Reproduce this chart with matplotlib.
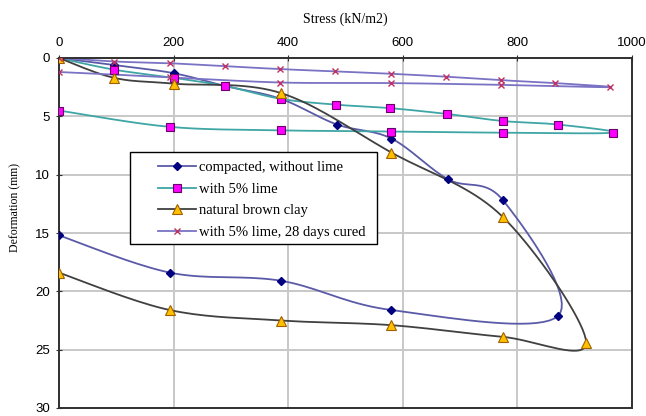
import numpy as np
import matplotlib
matplotlib.use("Agg")
import matplotlib.pyplot as plt
from matplotlib.patches import Rectangle

# stress (kN/m2) and deformation (mm), loading then unloading
compacted_x = [0, 96, 200, 290, 387, 485, 580, 679, 775, 871, 580, 388, 194, 0]
compacted_y = [0, 0.6, 1.3, 2.4, 3.5, 5.7, 6.9, 10.4, 12.2, 22.1, 21.6, 19.1, 18.4, 15.2]

lime_x = [0, 96, 200, 290, 387, 483, 578, 678, 774, 870, 967, 774, 580, 387, 193, 0]
lime_y = [0, 1.0, 1.7, 2.4, 3.5, 4.0, 4.3, 4.8, 5.4, 5.7, 6.4, 6.4, 6.3, 6.2, 5.9, 4.5]

clay_x = [0, 96, 200, 387, 580, 774, 920, 774, 580, 388, 193, 0]
clay_y = [0, 1.7, 2.2, 3.0, 8.1, 13.6, 24.4, 23.9, 22.9, 22.5, 21.6, 18.4]

cured_x = [0, 96, 193, 289, 386, 482, 579, 675, 771, 866, 962, 771, 579, 386, 193, 0]
cured_y = [0, 0.3, 0.45, 0.7, 0.95, 1.15, 1.35, 1.6, 1.9, 2.15, 2.5, 2.3, 2.15, 2.1, 1.65, 1.2]

labels = ["compacted, without lime", "with 5% lime", "natural brown clay",
          "with 5% lime, 28 days cured"]

XMAX, YMAX = 1000, 30
AX_W, AX_H = 573, 350  # axes size in pixels


def smooth(xs, ys, n=20):
    # excel-like smoothed line (bezier through the points), done in pixel space
    sx, sy = AX_W / XMAX, AX_H / YMAX
    p = np.column_stack([np.array(xs) * sx, np.array(ys) * sy])
    out = [p[0]]
    t = np.linspace(0, 1, n)[1:, None]
    for i in range(len(p) - 1):
        p0 = p[i - 1] if i > 0 else p[i]
        p1, p2 = p[i], p[i + 1]
        p3 = p[i + 2] if i + 2 < len(p) else p[i + 1]
        c1 = p1 + (p2 - p0) / 6
        c2 = p2 - (p3 - p1) / 6
        seg = ((1 - t) ** 3) * p1 + 3 * ((1 - t) ** 2) * t * c1 + 3 * (1 - t) * t ** 2 * c2 + t ** 3 * p2
        out.extend(seg)
    out = np.array(out)
    return out[:, 0] / sx, out[:, 1] / sy


W, H = 646, 416
fig = plt.figure(figsize=(W / 100, H / 100), dpi=100)
ax = fig.add_axes([59 / W, 1 - 408 / H, AX_W / W, AX_H / H])

series = [
    (compacted_x, compacted_y, "#5a5aa8", dict(marker="D", ms=4.5, mfc="#000080", mec="#000080")),
    (lime_x, lime_y, "#3fa5a5", dict(marker="s", ms=5.5, mfc="#ff00ff", mec="#6a006a", mew=0.8)),
    (clay_x, clay_y, "#404040", dict(marker="^", ms=6.5, mfc="#ffc000", mec="#a06000", mew=0.8)),
    (cured_x, cured_y, "#7a72c4", dict(marker="x", ms=5, mfc="#c03060", mec="#c03060", mew=1.0)),
]

for (xs, ys, col, mk), lab in zip(series, labels):
    sx, sy = smooth(xs, ys)
    ax.plot(sx, sy, color=col, lw=1.3, zorder=2)
    ax.plot(xs, ys, ls="none", zorder=3, **mk)
    # legend proxy
    ax.plot([], [], color=col, lw=1.3, label=lab, **mk)

ax.set_xlim(0, XMAX)
ax.set_ylim(YMAX, 0)
ax.set_xticks(range(0, 1001, 200))
ax.set_yticks(range(0, 31, 5))
ax.xaxis.tick_top()
ax.xaxis.set_label_position("top")
ax.grid(True, color="#c8c8c8", lw=1.4)
ax.set_axisbelow(True)
for s in ax.spines.values():
    s.set_color("#303030")
    s.set_linewidth(1.4)
ax.tick_params(direction="inout", length=5, color="#303030", labelsize=9.5, pad=4)
for t in ax.get_xticklabels() + ax.get_yticklabels():
    t.set_family("Liberation Sans")

ax.set_xlabel("Stress (kN/m2)", family="Liberation Serif", fontsize=10, labelpad=10)
ax.set_ylabel("Deformation (mm)", family="Liberation Serif", fontsize=8.5)
ax.yaxis.set_label_coords((21 - 59) / AX_W, (408 - 208) / AX_H)

# legend box drawn separately so that side padding can differ from top padding
box = Rectangle((130 / W, 1 - 244 / H), 247 / W, 92 / H, transform=fig.transFigure,
                facecolor="white", edgecolor="black", lw=1.0, zorder=4.9)
ax.add_patch(box)
leg = ax.legend(loc="upper left", bbox_to_anchor=(151 / W, 1 - 154 / H),
                bbox_transform=fig.transFigure, frameon=False, borderpad=0,
                labelspacing=0.56, handlelength=2.6, handletextpad=0.2,
                prop={"family": "Liberation Serif", "size": 10.5})
leg.set_zorder(5)

fig.savefig("out.png", dpi=100)
